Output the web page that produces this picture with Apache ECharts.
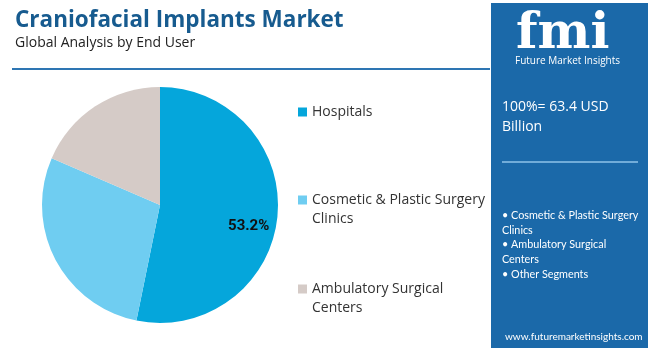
<!DOCTYPE html>
<html>
<head>
<meta charset="utf-8">
<script src="https://cdn.jsdelivr.net/npm/echarts@6/dist/echarts.min.js"></script>
<style>
  html, body { margin: 0; padding: 0; background: #fff; }
  #chart { width: 650px; height: 352px; }
</style>
</head>
<body>
<div id="chart"></div>
<script>
// segments, clockwise from 12 o'clock
const segments = ['Hospitals', 'Cosmetic & Plastic Surgery Clinics', 'Ambulatory Surgical Centers']
const shares = [53.2, 28.3, 18.5]
const colors = ['#05a6db', '#6fcdf1', '#d5cbc7']
// wrapped legend labels (a blank first line keeps the marker level with the first text line)
const legendLabels = ['Hospitals', ' \nCosmetic & Plastic Surgery\nClinics', ' \nAmbulatory Surgical\nCenters']
const legendTops = [102.5, 171.5, 260.5]
const panelBullets = ['• Cosmetic & Plastic Surgery', 'Clinics', '• Ambulatory Surgical', 'Centers', '• Other Segments']

const font = '"Open Sans", "Noto Sans", sans-serif'
const chart = echarts.init(document.getElementById('chart'), null, { renderer: 'canvas' })

const legends = segments.map((name, i) => ({
  data: [name],
  orient: 'vertical',
  left: 298,
  top: legendTops[i],
  padding: 0,
  itemWidth: 9,
  itemHeight: 9,
  icon: 'rect',
  selectedMode: false,
  formatter: () => legendLabels[i],
  textStyle: {
    fontFamily: font,
    fontSize: 14,
    color: '#333',
    lineHeight: 19
  }
}))

const option = {
  animation: false,
  color: colors,
  title: {
    text: 'Craniofacial Implants Market',
    subtext: 'Global Analysis by End User',
    left: 10,
    top: 4,
    itemGap: 4,
    textStyle: {
      fontFamily: font,
      fontSize: 22.5,
      fontWeight: 'bold',
      color: '#175b8f'
    },
    subtextStyle: {
      fontFamily: font,
      fontSize: 14,
      color: '#222'
    }
  },
  legend: legends,
  graphic: [
    {
      type: 'line',
      shape: { x1: 12, y1: 69, x2: 490, y2: 69 },
      style: { stroke: '#2e76b3', lineWidth: 2 }
    },
    {
      type: 'rect',
      shape: { x: 491, y: 3, width: 157, height: 345 },
      style: { fill: '#1b69a9' }
    },
    {
      type: 'text',
      left: 516,
      top: 10,
      style: {
        text: 'fmi',
        fontFamily: '"DejaVu Serif", serif',
        fontSize: 50,
        fontWeight: 'bold',
        fill: '#fff'
      }
    },
    {
      type: 'text',
      left: 515,
      top: 56,
      style: { text: 'Future Market Insights', fontFamily: font, fontSize: 10, fill: '#fff' }
    },
    {
      type: 'text',
      left: 502,
      top: 97,
      style: {
        text: '100%= 63.4 USD\nBillion',
        fontFamily: font,
        fontSize: 14,
        lineHeight: 20,
        fill: '#fff'
      }
    },
    {
      type: 'line',
      shape: { x1: 502, y1: 162, x2: 638, y2: 162 },
      style: { stroke: '#8fc3ea', lineWidth: 1.5 }
    },
    {
      type: 'text',
      left: 502,
      top: 208,
      style: {
        text: panelBullets.join('\n'),
        fontFamily: 'Lato, sans-serif',
        fontSize: 10.8,
        lineHeight: 14.8,
        fill: '#fff'
      }
    },
    {
      type: 'text',
      left: 505,
      top: 332,
      style: { text: 'www.futuremarketinsights.com', fontFamily: 'Lato, sans-serif', fontSize: 10, fill: '#fff' }
    }
  ],
  series: [
    {
      type: 'pie',
      center: [160, 205],
      radius: [0, 118],
      startAngle: 90,
      clockwise: true,
      label: { show: false },
      labelLine: { show: false },
      emphasis: { disabled: true },
      data: segments.map((name, i) => ({
        name,
        value: shares[i],
        label: i === 0 ? {
          show: true,
          position: 'inside',
          offset: [27, 15],
          formatter: p => p.value.toFixed(1) + '%',
          fontFamily: 'Roboto, "Liberation Sans", sans-serif',
          fontSize: 15,
          fontWeight: 'bold',
          color: '#111'
        } : { show: false }
      }))
    }
  ]
}

chart.setOption(option)
</script>
</body>
</html>
